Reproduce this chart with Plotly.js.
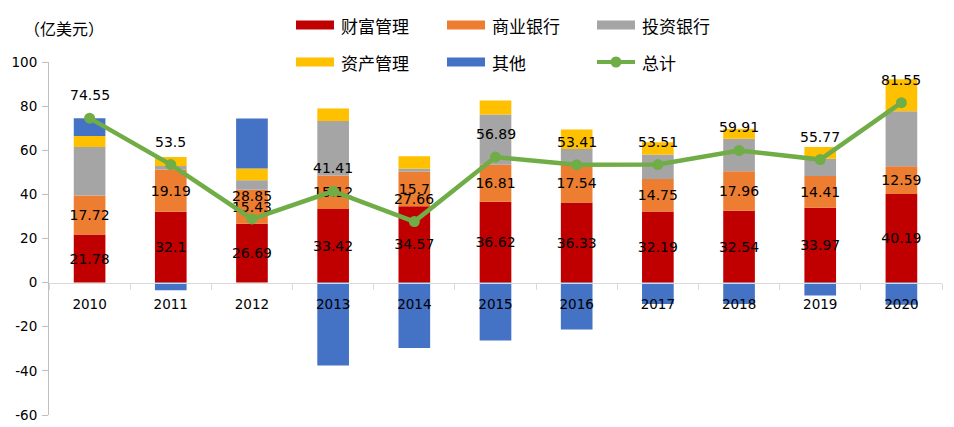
<!DOCTYPE html>
<html>
<head>
<meta charset="utf-8">
<script src="https://cdn.plot.ly/plotly-3.0.1.min.js"></script>
<style>html,body{margin:0;padding:0;background:#fff;}#chart{width:954px;height:427px;}</style>
</head>
<body>
<div id="chart"></div>
<script>
// ---- data ----
const years = ['2010','2011','2012','2013','2014','2015','2016','2017','2018','2019','2020'];
const seriesNames = ['财富管理','商业银行','投资银行','资产管理','其他','总计'];
const wealthMgmt   = [21.78, 32.1, 26.69, 33.42, 34.57, 36.62, 36.33, 32.19, 32.54, 33.97, 40.19];
const commercial   = [17.72, 19.19, 15.43, 15.12, 15.7, 16.81, 17.54, 14.75, 17.96, 14.41, 12.59];
const investment   = [22.0, 1.6, 4.3, 24.7, 1.4, 22.8, 6.7, 11.1, 14.7, 7.8, 24.9];
const assetMgmt    = [5.0, 4.1, 5.3, 5.7, 5.6, 6.3, 8.8, 5.6, 4.5, 5.3, 14.5];
const others       = [8.05, -3.5, 22.7, -37.6, -29.6, -26.2, -21.3, -9.7, -9.7, -5.8, -10.0];
const totals       = [74.55, 53.5, 28.85, 41.41, 27.66, 56.89, 53.41, 53.51, 59.91, 55.77, 81.55];
const yTicks       = [-60, -40, -20, 0, 20, 40, 60, 80, 100];
const unitLabel    = '（亿美元）';

// ---- styles ----
const colors = ['#C00000','#ED7D31','#A5A5A5','#FFC000','#4472C4','#70AD47'];
const numFont = 'DejaVu Sans, sans-serif';
const cjkFont = 'Noto Sans CJK SC, sans-serif';

const W = 954, H = 427;
const M = {l:49, r:12, t:62, b:12};
const pw = W - M.l - M.r, ph = H - M.t - M.b;
const px2x = p => (p - M.l) / pw;
const py2y = p => (H - M.b - p) / ph;

function barTrace(vals, i, withText) {
  const t = {
    type: 'bar', x: years, y: vals, name: seriesNames[i],
    marker: {color: colors[i], line: {width: 0}},
    hoverinfo: 'skip'
  };
  if (withText) {
    t.text = vals.map(v => String(v));
    t.textposition = 'inside';
    t.insidetextanchor = 'middle';
    t.textangle = 0;
    t.constraintext = 'none';
    t.cliponaxis = false;
    t.textfont = {family: numFont, size: 14, color: '#000'};
  }
  return t;
}

const traces = [
  barTrace(wealthMgmt, 0, true),
  barTrace(commercial, 1, true),
  barTrace(investment, 2, false),
  barTrace(assetMgmt, 3, false),
  barTrace(others, 4, false),
  {
    type: 'scatter', mode: 'lines+markers', x: years, y: totals, name: seriesNames[5],
    line: {color: colors[5], width: 4.5},
    marker: {color: colors[5], size: 11},
    hoverinfo: 'skip'
  }
];

// total labels: x given as category index
const annotations = totals.map((v, i) => ({
  x: i, y: v, xref: 'x', yref: 'y', text: String(v), showarrow: false,
  yshift: 23, font: {family: numFont, size: 14, color: '#000'}
}));

annotations.push({
  xref: 'paper', yref: 'paper', x: px2x(64), y: py2y(28), text: unitLabel,
  showarrow: false, xanchor: 'center', yanchor: 'middle',
  font: {family: cjkFont, size: 16, color: '#000'}
});

// custom legend (wide line-like swatches as in the reference)
const legCols = [296, 447, 597];
const legRows = [25, 62];
const shapes = [];
seriesNames.forEach((nm, i) => {
  const cx = legCols[i % 3], cy = legRows[Math.floor(i / 3)];
  if (i < 5) {
    shapes.push({type: 'rect', xref: 'paper', yref: 'paper',
      x0: px2x(cx), x1: px2x(cx + 38), y0: py2y(cy + 4.5), y1: py2y(cy - 4.5),
      fillcolor: colors[i], line: {width: 0}});
  } else {
    shapes.push({type: 'line', xref: 'paper', yref: 'paper',
      x0: px2x(cx), x1: px2x(cx + 38), y0: py2y(cy), y1: py2y(cy),
      line: {color: colors[i], width: 4}});
    shapes.push({type: 'circle', xref: 'paper', yref: 'paper',
      x0: px2x(cx + 19 - 5.5), x1: px2x(cx + 19 + 5.5), y0: py2y(cy + 5.5), y1: py2y(cy - 5.5),
      fillcolor: colors[i], line: {width: 0}});
  }
  annotations.push({xref: 'paper', yref: 'paper', x: px2x(cx + 43), y: py2y(cy),
    text: nm, showarrow: false, xanchor: 'left', yanchor: 'middle',
    font: {family: cjkFont, size: 17, color: '#000'}});
});

const layout = {
  width: W, height: H,
  margin: M,
  paper_bgcolor: '#fff', plot_bgcolor: '#fff',
  showlegend: false,
  barmode: 'relative',
  bargap: 0.61,
  xaxis: {
    type: 'category', anchor: 'free', position: 60 / 160,
    range: [-0.5, years.length - 0.5],
    showline: true, linecolor: '#d9d9d9', linewidth: 1,
    ticks: 'outside', tickson: 'boundaries', ticklen: 6, tickcolor: '#d9d9d9', tickwidth: 1,
    ticklabelstandoff: 9,
    showgrid: false, zeroline: false,
    tickfont: {family: numFont, size: 13.5, color: '#000'}
  },
  yaxis: {
    range: [-60, 100], tickvals: yTicks, ticktext: yTicks.map(String),
    showline: true, linecolor: '#bfbfbf', linewidth: 1,
    ticks: 'outside', ticklen: 6, tickcolor: '#bfbfbf',
    ticklabelstandoff: 2,
    showgrid: false, zeroline: false,
    tickfont: {family: numFont, size: 13.5, color: '#000'}
  },
  shapes: shapes,
  annotations: annotations
};

Plotly.newPlot('chart', traces, layout, {displayModeBar: false, staticPlot: true});
</script>
</body>
</html>
